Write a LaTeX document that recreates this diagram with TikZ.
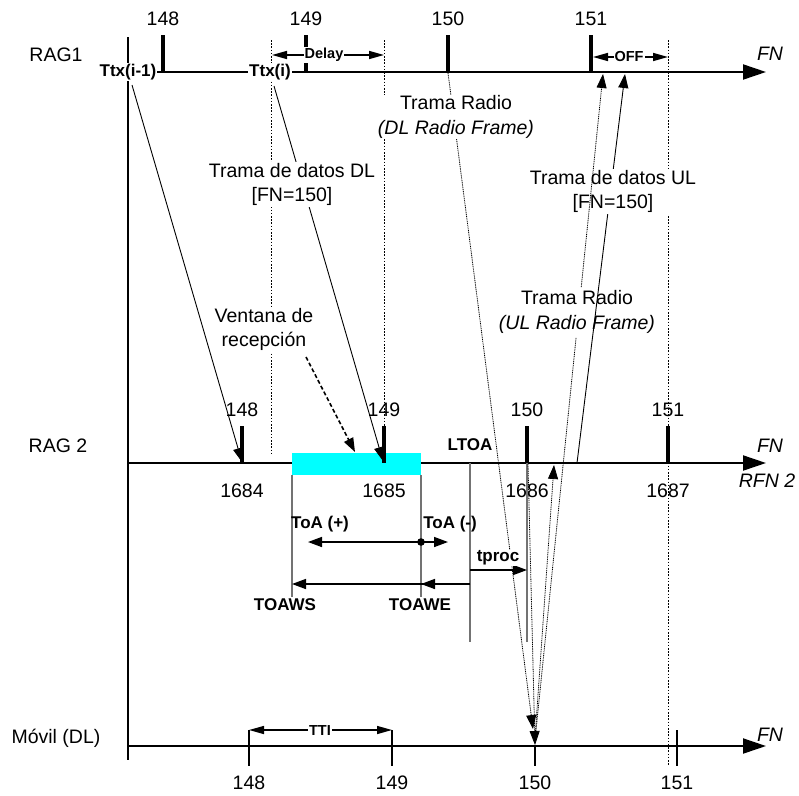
\documentclass[tikz,border=0pt]{standalone}
\usepackage{fontspec}
\setmainfont{Liberation Sans}
\usetikzlibrary{arrows.meta,calc}
\definecolor{winaqua}{RGB}{0,255,255}
\begin{document}
\begin{tikzpicture}[x=1pt,y=-1pt,
  >={Triangle[length=14pt,width=10pt]},
  axisline/.style={line width=2pt,-{Triangle[length=23pt,width=15pt]}},
  tickbig/.style={line width=3.3pt},
  ticksmall/.style={line width=1.5pt},
  grayv/.style={line width=1.3pt,black!55},
  dotv/.style={line width=0.9pt,dash pattern=on 1.6pt off 1.6pt},
  msg/.style={line width=0.9pt,->},
  radio/.style={line width=0.8pt,dash pattern=on 1pt off 0.8pt,->},
  radioplain/.style={line width=0.8pt,dash pattern=on 1pt off 0.8pt},
  dimsmall/.style={line width=1.5pt,{Triangle[length=15pt,width=8pt]}-{Triangle[length=15pt,width=8pt]}},
  txt/.style={font=\fontsize{19.5}{24.5}\selectfont,inner sep=1pt,align=center},
  itxt/.style={font=\fontsize{19.5}{24.5}\selectfont\itshape,inner sep=1pt},
  btxt/.style={font=\fontsize{17}{20}\selectfont\bfseries,inner sep=1pt},
  stxt/.style={font=\fontsize{14.5}{17}\selectfont\bfseries,inner sep=1pt,fill=white},
  wlab/.style={fill=white},
]
\useasboundingbox (0,0) rectangle (799,795);

% ---------- dotted verticals ----------
\coordinate (v1t) at (271,40);  \coordinate (v1b) at (271,453);
\coordinate (v2t) at (384,40);  \coordinate (v2b) at (384,426);
\coordinate (v3t) at (668,40);  \coordinate (v3b) at (668,766);
\draw[dotv] (v1t) -- (v1b);
\draw[dotv] (v2t) -- (v2b);
\draw[dotv] (v3t) -- (v3b);

% ---------- left axis ----------
\coordinate (lax) at (128,37); \coordinate (lab) at (128,760);
\draw[line width=1.6pt] (lax) -- (lab);

% ---------- RAG1 ----------
\coordinate (r1s) at (128,72); \coordinate (r1e) at (766,72);
\draw[axisline] (r1s) -- (r1e);
\foreach \x/\n in {163/148,306/149,448/150,591/151}{
  \draw[tickbig] (\x,35) -- (\x,72);
  \node[txt] (top\n) at (\x,19) {\n};
}
\node[txt] (rag1) at (56,55) {RAG1};
\node[itxt] (fn1) at (770,54) {FN};

% Delay and OFF
\coordinate (dl1) at (272,55); \coordinate (dl2) at (384,55);
\draw[dimsmall] (dl1) -- (dl2);
\node[stxt] (delay) at (324,55) {Delay};
\coordinate (of1) at (593,57); \coordinate (of2) at (668,57);
\draw[dimsmall] (of1) -- (of2);
\node[stxt] (off) at (629,57) {OFF};

% ---------- RAG2 ----------
\coordinate (r2s) at (128,463); \coordinate (r2e) at (766,463);
\draw[axisline] (r2s) -- (r2e);
\fill[winaqua] (292,453) rectangle (421,475);
\foreach \x/\n/\m in {242/148/1684,384/149/1685,527/150/1686,668/151/1687}{
  \draw[tickbig] (\x,426) -- (\x,463);
  \node[txt] (mid\n) at (\x,410) {\n};
  \node[txt] (rfn\m) at (\x,491) {\m};
}
\node[txt] (rag2) at (58,446) {RAG 2};
\node[itxt] (fn2) at (770,446) {FN};
\node[itxt] (rfn2) at (767,481) {RFN 2};
\node[btxt] (ltoa) at (470,445) {LTOA};

% gray verticals
\draw[grayv] (292,475) -- (292,597);
\draw[grayv] (421,475) -- (421,597);
\draw[grayv] (470,463) -- (470,642);
\draw[grayv] (527,463) -- (527,642);

% ToA
\node[btxt] (toap) at (320,524) {ToA (+)};
\node[btxt] (toam) at (450,524) {ToA (-)};
\coordinate (ta1) at (308,542); \coordinate (ta2) at (448,542);
\draw[line width=1.5pt,<->] (ta1) -- (ta2);
\fill (421,542) circle (3.8);
% tproc
\coordinate (tp1) at (470,570); \coordinate (tp2) at (527,570);
\draw[line width=1.4pt,->] (tp1) -- (tp2);
% TOAW
\coordinate (tw0) at (470,584); \coordinate (tw1) at (421,584); \coordinate (tw2) at (292,584);
\draw[line width=1.5pt,->] (tw0) -- (tw2);
\draw[line width=1.5pt,->] (tw0) -- (tw1);
\node[btxt] (toaws) at (285,605) {TOAWS};
\node[btxt] (toawe) at (420,605) {TOAWE};

% ---------- Mobile ----------
\coordinate (ms) at (128,746); \coordinate (me) at (766,746);
\draw[axisline] (ms) -- (me);
\foreach \x in {249,392,677}{
  \draw[ticksmall] (\x,730) -- (\x,766);
}
\draw[ticksmall] (535,746) -- (535,766);
\foreach \x/\n in {249/148,392/149,535/150,677/151}{
  \node[txt] (bot\n) at (\x,783) {\n};
}
\node[txt] (movil) at (56,738) {Móvil (DL)};
\node[itxt] (fn3) at (770,735) {FN};
\coordinate (tt1) at (249,730); \coordinate (tt2) at (392,730);
\draw[dimsmall] (tt1) -- (tt2);
\node[stxt] (tti) at (320,730) {TTI};

% ---------- messages ----------
\coordinate (a1) at (132,85);  \coordinate (a2) at (242,462);
\coordinate (b1) at (274,86);  \coordinate (b2) at (383,461);
\coordinate (c1) at (306,357); \coordinate (c2) at (355,452);
\coordinate (d1) at (448,73);  \coordinate (d2) at (533,729);
\coordinate (e1) at (528,464); \coordinate (e2) at (535,745);
\coordinate (f1) at (535,738); \coordinate (f2) at (554,465);
\coordinate (g1) at (535,740); \coordinate (g2) at (603,74);
\coordinate (h1) at (577,463); \coordinate (h2) at (625,74);

\draw[msg] (a1) -- (a2);
\draw[msg] (b1) -- (b2);
\draw[line width=1.6pt,dash pattern=on 4pt off 2.5pt,->] (c1) -- (c2);
\draw[radio] (d1) -- (d2);
\draw[radio] (e1) -- (e2);
\draw[radio] (f1) -- (f2);
\draw[msg] (h1) -- (h2);

% labels with white background
\node[btxt,fill=white] (ttx1) at (128,72) {Ttx(i-1)};
\node[btxt,fill=white] (ttx2) at (270,72) {Ttx(i)};
\node[txt,wlab] (dldata) at (292,184.5) {Trama de datos DL\\{}[FN=150]};
\node[txt,wlab] (dlradio) at (456,117) {Trama Radio\\\textit{(DL Radio Frame)}};
\node[txt,wlab] (ventana) at (264,329.5) {Ventana de\\recepción};
\node[txt,wlab] (uldata) at (613,191.5) {Trama de datos UL\\{}[FN=150]};
\node[btxt,fill=white] (tproc) at (498,558) {tproc};

% UL radio frame (drawn over the UL data label, broken at its own label)
\node[txt] (ulradio) at (577,312) {Trama Radio\\\textit{(UL Radio Frame)}};
\draw[radioplain] (g1) -- ($(g1)!0.604!(g2)$);
\draw[radio] ($(g1)!0.68!(g2)$) -- (g2);
\end{tikzpicture}
\end{document}
